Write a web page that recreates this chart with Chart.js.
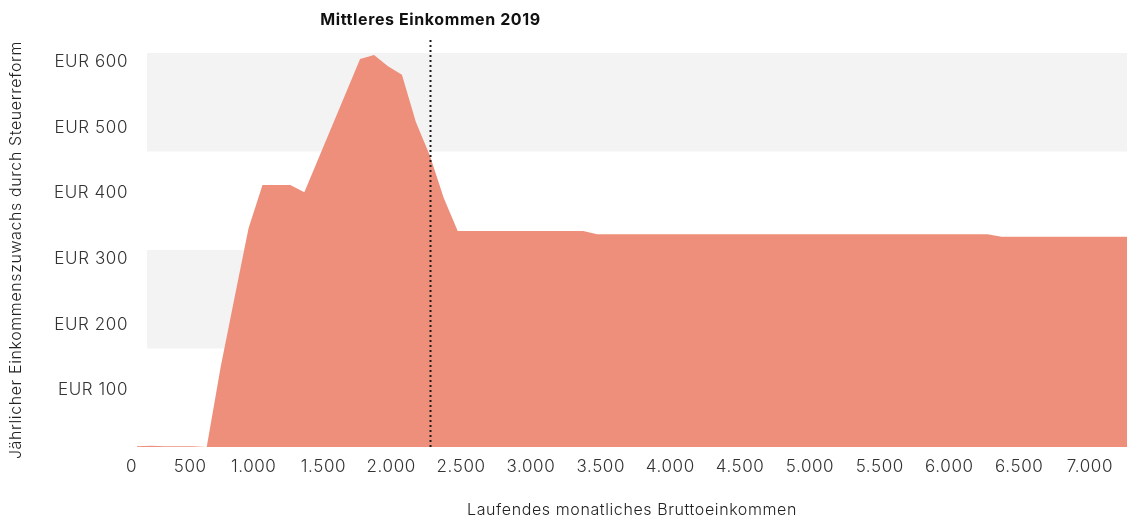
<!DOCTYPE html>
<html lang="de">
<head>
<meta charset="utf-8">
<title>Einkommenszuwachs durch Steuerreform</title>
<script src="https://cdn.jsdelivr.net/npm/chart.js@4.4.1/dist/chart.umd.min.js"></script>
<style>
  html, body { margin: 0; padding: 0; background: #ffffff; }
  #wrap { position: relative; width: 1127px; height: 520px; }
</style>
</head>
<body>
<div id="wrap"><canvas id="chart"></canvas></div>
<script>
// Laufendes monatliches Bruttoeinkommen (EUR) and the yearly gain from the tax reform (EUR)
const incomes = [0, 100, 200, 400, 500, 600, 700, 800, 900, 1100, 1200, 1600, 1700, 1800, 1900, 2000, 2100, 2200, 2300, 3200, 3300, 6100, 6200, 7100];
const gains   = [1, 2, 1, 1, 0, 122, 228, 333, 399, 399, 388, 591, 597, 580, 567, 495, 444, 379, 329, 329, 324, 324, 320, 320];

// Median income marker
const medianIncome = 2100;
const medianLabel = 'Mittleres Einkommen 2019';

// Axis ticks
const xTickValues = [0, 500, 1000, 1500, 2000, 2500, 3000, 3500, 4000, 4500, 5000, 5500, 6000, 6500, 7000];
const yTickValues = [0, 100, 200, 300, 400, 500, 600];

// Shaded horizontal value bands
const bandLows  = [150, 450];
const bandHighs = [300, 600];

const FONT = 'Inter, Lato, "Noto Sans", sans-serif';
const TEXT = '#333333';
const SPACING = '0.6px';
const fmt = new Intl.NumberFormat('de-DE');

// Slightly wider letter spacing for every text on the canvas
const spacingPlugin = {
  id: 'spacing',
  beforeLayout(chart) { chart.ctx.letterSpacing = SPACING; },
  beforeDraw(chart) { chart.ctx.letterSpacing = SPACING; }
};

const bandPlugin = {
  id: 'bands',
  beforeDatasetsDraw(chart) {
    const { ctx, chartArea, scales } = chart;
    ctx.save();
    ctx.fillStyle = '#f3f3f3';
    bandLows.forEach((lo, i) => {
      const yTop = scales.y.getPixelForValue(bandHighs[i]);
      const yBot = scales.y.getPixelForValue(lo);
      ctx.fillRect(chartArea.left + 10, yTop, chartArea.right - chartArea.left - 10, yBot - yTop);
    });
    ctx.restore();
  }
};

const medianPlugin = {
  id: 'median',
  afterDatasetsDraw(chart) {
    const { ctx, chartArea, scales } = chart;
    const x = Math.round(scales.x.getPixelForValue(medianIncome)) + 0.5;
    ctx.save();
    ctx.strokeStyle = '#1a1a1a';
    ctx.lineWidth = 2;
    ctx.setLineDash([2, 3]);
    ctx.beginPath();
    ctx.moveTo(x, 40);
    ctx.lineTo(x, chartArea.bottom);
    ctx.stroke();
    ctx.setLineDash([]);
    ctx.fillStyle = '#111111';
    ctx.font = `700 16px ${FONT}`;
    ctx.textAlign = 'center';
    ctx.textBaseline = 'middle';
    ctx.fillText(medianLabel, x, 20);
    ctx.restore();
  }
};

new Chart(document.getElementById('chart'), {
  type: 'line',
  data: {
    datasets: [{
      data: incomes.map((v, i) => ({ x: v, y: gains[i] })),
      backgroundColor: '#ee8f7b',
      borderColor: '#ee8f7b',
      borderWidth: 0,
      pointRadius: 0,
      tension: 0,
      fill: 'origin'
    }]
  },
  options: {
    responsive: true,
    maintainAspectRatio: false,
    animation: false,
    layout: { padding: { top: 53, right: 0, bottom: 0, left: 0 } },
    plugins: { legend: { display: false }, tooltip: { enabled: false } },
    scales: {
      x: {
        type: 'linear',
        min: 0,
        max: 7100,
        afterBuildTicks(scale) { scale.ticks = xTickValues.map(v => ({ value: v })); },
        afterFit(scale) { scale.height = 73; },
        grid: { display: false, drawTicks: false },
        border: { display: false },
        ticks: {
          align: 'end',
          padding: 10,
          color: TEXT,
          font: { family: FONT, size: 17, weight: 300 },
          maxRotation: 0,
          autoSkip: false,
          callback: v => fmt.format(v)
        },
        title: {
          display: true,
          text: 'Laufendes monatliches Bruttoeinkommen',
          color: '#222222',
          font: { family: FONT, size: 16, weight: 300 },
          padding: { top: 0, bottom: 0 }
        }
      },
      y: {
        min: 0,
        max: 600,
        afterBuildTicks(scale) { scale.ticks = yTickValues.map(v => ({ value: v })); },
        afterFit(scale) { scale.width = 137; },
        grid: { display: false, drawTicks: false },
        border: { display: false },
        ticks: {
          padding: 9,
          labelOffset: 9,
          color: TEXT,
          font: { family: FONT, size: 17, weight: 300 },
          callback: v => (v === 0 ? '' : 'EUR ' + fmt.format(v))
        },
        title: {
          display: true,
          text: 'Jährlicher Einkommenszuwachs durch Steuerreform',
          color: '#222222',
          font: { family: FONT, size: 16, weight: 300 },
          padding: { top: 7, bottom: 0 }
        }
      }
    }
  },
  plugins: [spacingPlugin, bandPlugin, medianPlugin]
});
</script>
</body>
</html>
